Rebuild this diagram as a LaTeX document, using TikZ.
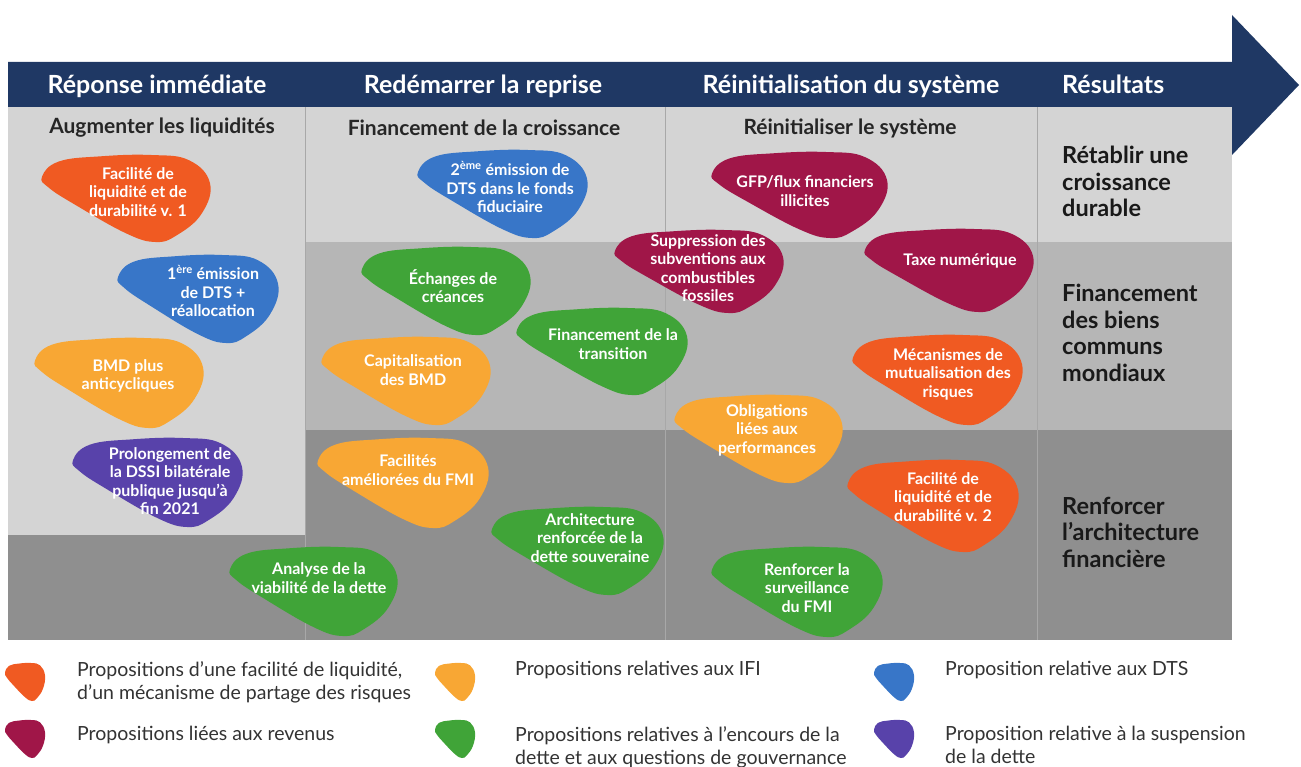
\documentclass[tikz,border=0pt]{standalone}
\usepackage{fontspec}
\setmainfont{Lato}
\usetikzlibrary{positioning}
\definecolor{marine}{RGB}{31,56,100}
\definecolor{grisclair}{RGB}{212,212,212}
\definecolor{grismoyen}{RGB}{182,182,182}
\definecolor{grisfonce}{RGB}{143,143,143}
\definecolor{trait}{RGB}{168,168,168}
\definecolor{rougeorange}{RGB}{240,90,34}
\definecolor{jaune}{RGB}{248,167,52}
\definecolor{bleu}{RGB}{56,118,200}
\definecolor{bordeaux}{RGB}{160,22,72}
\definecolor{vert}{RGB}{64,164,56}
\definecolor{violet}{RGB}{88,66,170}
\tikzset{
  entete/.style={
    anchor=base,
    text=white,
    font=\fontsize{25}{28}\selectfont\bfseries,
    inner sep=0pt
  },
  soustitre/.style={
    text=black!85,
    font=\fontsize{21}{24}\selectfont\bfseries,
    inner sep=0pt
  },
  resultat/.style={
    anchor=north west,
    align=left,
    text=black!90,
    font=\fontsize{23.5}{26.5}\selectfont\bfseries,
    inner sep=0pt
  },
  bulletxt/.style={
    align=center,
    text=white,
    font=\fontsize{16}{18.5}\selectfont\bfseries,
    inner sep=0pt
  },
  legende/.style={
    anchor=north west,
    align=left,
    text=black!80,
    font=\fontsize{19.5}{23}\selectfont,
    inner sep=0pt
  }
}
% forme de galet : couleur, centre, demi-largeur, demi-hauteur
\newcommand{\galet}[4]{%
  \fill[#1, shift={(#2)}, xscale=#3, yscale=#4]
    plot[smooth cycle, tension=0.7] coordinates {(-1,-0.5) (-0.8,-0.85)
    (-0.3,-0.97) (0.3,-1) (0.75,-0.88) (1,-0.35) (0.9,0.35) (0.6,0.85)
    (0.35,1) (0,0.8) (-0.6,0.15) (-0.92,-0.25)};}
% galet avec texte : nom, couleur, centre, demi-largeur, demi-hauteur, position du texte, texte
\newcommand{\bulle}[7]{%
  \galet{#2}{#3}{#4}{#5}
  \node[bulletxt] (#1) at (#6) {#7};}

\begin{document}
\begin{tikzpicture}[x=1pt, y=-1pt]
  \useasboundingbox (0,0) rectangle (1301,767);

  % fonds
  \fill[grisclair] (8,107) rectangle (1232,242);
  \fill[grismoyen] (305,242) rectangle (1232,430);
  \fill[grisfonce] (305,430) rectangle (1232,640);
  \fill[grisclair] (8,107) rectangle (305,535);
  \fill[grisfonce] (8,535) rectangle (305,640);
  \foreach \x in {305,665,1037}
    \draw[trait, line width=0.8pt] (\x,107) -- (\x,640);

  % fleche du temps
  \fill[marine] (8,62) -- (1232,62) -- (1232,15) -- (1299,85)
    -- (1232,155) -- (1232,107) -- (8,107) -- cycle;
  \node[entete] (h1) at (157,94) {Réponse immédiate};
  \node[entete] (h2) at (483,94) {Redémarrer la reprise};
  \node[entete] (h3) at (851,94) {Réinitialisation du système};
  \node[entete, anchor=base west] (h4) at (1062,94) {Résultats};

  \node[soustitre] (s1) at (162,128) {Augmenter les liquidités};
  \node[soustitre] (s2) at (484,128) {Financement de la croissance};
  \node[soustitre] (s3) at (850,128) {Réinitialiser le système};

  \node[resultat] (r1) at (1062,146) {Rétablir une\\croissance\\durable};
  \node[resultat] (r2) at (1062,284) {Financement\\des biens\\communs\\mondiaux};
  \node[resultat] (r3) at (1062,497) {Renforcer\\l'architecture\\financière};

  % propositions
  \bulle{liqA}{rougeorange}{126,198.5}{84}{43.5}{138,192}{Facilité de\\liquidité et de\\durabilité v. 1}
  \bulle{dtsA}{bleu}{198,299}{80}{44}{213,291}{1\textsuperscript{ère} émission\\de DTS +\\réallocation}
  \bulle{bmd}{jaune}{119,383}{84}{45}{128,376}{BMD plus\\anticycliques}
  \bulle{dssi}{violet}{157.5,482.5}{84.5}{44.5}{170,481}{Prolongement de\\la DSSI bilatérale\\publique jusqu'à\\fin 2021}
  \bulle{dtsB}{bleu}{502.5,194}{84.5}{44}{510,187}{2\textsuperscript{ème} émission de\\DTS dans le fonds\\fiduciaire}
  \bulle{echange}{vert}{446,291}{84}{44}{453,286}{Échanges de\\créances}
  \bulle{capital}{jaune}{406,381}{84}{44}{413,370}{Capitalisation\\des BMD}
  \bulle{transition}{vert}{602,351.5}{85}{43.5}{613,344}{Financement de la\\transition}
  \bulle{gfp}{bordeaux}{799.5,195}{87.5}{43}{805,191}{GFP/flux financiers\\illicites}
  \bulle{subvention}{bordeaux}{699,271.5}{84}{41.5}{708,268}{Suppression des\\subventions aux\\combustibles\\fossiles}
  \bulle{taxe}{bordeaux}{949,270.5}{84}{41.5}{960,261}{Taxe numérique}
  \bulle{mutual}{rougeorange}{937.5,380}{84.5}{45}{948,374}{Mécanismes de\\mutualisation des\\risques}
  \bulle{oblig}{jaune}{758.5,439}{83.5}{44}{767,430}{Obligations\\liées aux\\performances}
  \bulle{liqB}{rougeorange}{933,506}{85}{46}{943,497}{Facilité de\\liquidité et de\\durabilité v. 2}
  \bulle{surveil}{vert}{797,592}{85}{45}{807,588}{Renforcer la\\surveillance\\du FMI}
  \bulle{facil}{jaune}{403,483}{85}{45}{408,470}{Facilités\\améliorées du FMI}
  \bulle{archi}{vert}{577.5,551}{85.5}{44}{590,538}{Architecture\\renforcée de la\\dette souveraine}
  \bulle{analyse}{vert}{313.5,591.5}{83.5}{44.5}{319,578}{Analyse de la\\viabilité de la dette}

  % legende
  \galet{rougeorange}{25,682}{20}{19}
  \galet{jaune}{455,682}{20}{19}
  \galet{bleu}{894,682}{20}{19}
  \galet{bordeaux}{25,739}{20}{19}
  \galet{vert}{455,739}{20}{19}
  \galet{violet}{894,739}{20}{19}
  \node[legende] (l1) at (77,661) {Propositions d'une facilité de liquidité,\\d'un mécanisme de partage des risques};
  \node[legende] (l2) at (515,661) {Propositions relatives aux IFI};
  \node[legende] (l3) at (945,661) {Proposition relative aux DTS};
  \node[legende] (l4) at (77,726) {Propositions liées aux revenus};
  \node[legende] (l5) at (515,726) {Propositions relatives à l'encours de la\\dette et aux questions de gouvernance};
  \node[legende] (l6) at (945,726) {Proposition relative à la suspension\\de la dette};
\end{tikzpicture}
\end{document}
